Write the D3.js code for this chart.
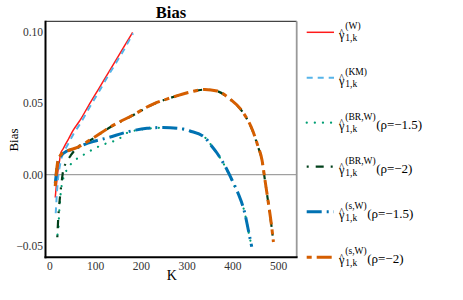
<!DOCTYPE html>
<html><head><meta charset="utf-8">
<script src="https://cdn.jsdelivr.net/npm/d3@7"></script>
<style>body{margin:0;background:#fff}svg{display:block}svg text{font-family:"Liberation Serif","DejaVu Serif",serif !important}</style>
</head><body>
<svg id="c" width="463" height="300"></svg>
<script>
// ---- data ----
const xTicks = [0, 100, 200, 300, 400, 500];
const yTicks = [-0.05, 0.00, 0.05, 0.10];
const yTickLabels = ["\u22120.05", "0.00", "0.05", "0.10"];

const kW  = [13,15,17,19,22,25,30,35,42,52,67,85,110,130,150,165,182];
const vW  = [-0.016,-0.009,-0.003,0.003,0.009,0.015,0.018,0.021,0.025,0.031,0.038,0.0479,0.0612,0.0719,0.0825,0.0905,0.0996];

const kKM = [14,15,16,18,20,23,26,30,35,42,52,67,85,110,130,150,165,183];
const vKM = [-0.027,-0.022,-0.016,-0.007,0.000,0.006,0.011,0.0145,0.018,0.022,0.028,0.0355,0.0455,0.059,0.070,0.0805,0.0885,0.099];

const kBR15 = [17.9,19.7,21.9,24.9,30.6,38,52.5,74.3,99.9,125.5,150.9,170,214,249,286,308,340,351,367,384,399,412,428,435,442.5];
const vBR15 = [-0.042,-0.0387,-0.0247,-0.013,-0.0025,0.0033,0.0091,0.0138,0.0185,0.022,0.0248,0.0293,0.0322,0.0329,0.0322,0.0304,0.0262,0.022,0.015,0.006,-0.004,-0.013,-0.0277,-0.039,-0.0505];

const kBR2 = [17.5,18.5,19.7,21.5,23.4,27,30.6,38,48,60,89,133,183,227,264,308,340,367,395,423,445,456,465,471.5,478,486,490];
const vBR2 = [-0.0438,-0.037,-0.0296,-0.022,-0.0156,-0.005,0.0033,0.0089,0.014,0.0187,0.0240,0.0332,0.0416,0.0494,0.0537,0.0578,0.0596,0.0585,0.0528,0.0437,0.0303,0.0198,0.0100,-0.004,-0.018,-0.0365,-0.0475];

const kS15 = [13,14.6,16.8,23.4,38.7,56.2,73.7,99.9,126.1,169.9,213.6,248.6,285.8,307.6,340.4,351.4,366.6,384.1,399.4,412.5,427.8,435.1,442.5];
const vS15 = [-0.006,-0.0016,0.0047,0.0124,0.0166,0.018,0.0208,0.0236,0.0257,0.0299,0.0325,0.0331,0.0324,0.0306,0.026,0.0215,0.0152,0.0061,-0.0037,-0.0128,-0.0275,-0.0387,-0.0504];

const kS2 = [13,14.6,17,19,23,28,35,45,60,89,133,183,227,264,308,340,367,395,423,445,456,465,471.5,478,486,490];
const vS2 = [-0.008,-0.001,0.006,0.010,0.013,0.015,0.016,0.0173,0.019,0.0243,0.0334,0.0418,0.0495,0.0537,0.0579,0.0597,0.0586,0.053,0.0439,0.0306,0.0201,0.0103,-0.0037,-0.0177,-0.036,-0.0471];

const supLabels = ["(W)", "(KM)", "(BR,W)", "(BR,W)", "(s,W)", "(s,W)"];
const rhoLabels = ["", "", "(\u03c1=\u22121.5)", "(\u03c1=\u22122)", "(\u03c1=\u22121.5)", "(\u03c1=\u22122)"];

// ---- layout ----
const FONT = '"Liberation Serif","DejaVu Serif",serif';
const L = 45.5, R = 296.7, T = 21.3, B = 257.3;
const x = d3.scaleLinear().domain([0, 500]).range([49.3, 278]);
const y = d3.scaleLinear().domain([0, 0.05]).range([174.7, 103.3]);

const series = [
  {k:kW,  v:vW,  color:"#ff1a1a", w:1.5, dash:null, cap:"butt"},
  {k:kKM, v:vKM, color:"#56B4E9", w:2,   dash:"6,5", cap:"butt"},
  {k:kBR15,v:vBR15,color:"#009E73",w:2.2, dash:"0.1,8", cap:"round"},
  {k:kBR2, v:vBR2, color:"#00401a",w:2.2, dash:"2,7,8,7", cap:"butt"},
  {k:kS15, v:vS15, color:"#0072B2",w:3,   dash:"15,5,2,5", cap:"butt"},
  {k:kS2,  v:vS2,  color:"#D55E00",w:3,   dash:"5,5,15,5", cap:"butt"}
];

const svg = d3.select("#c").attr("font-family", FONT);

svg.append("defs").append("clipPath").attr("id","clip")
  .append("rect").attr("x",L).attr("y",T).attr("width",R-L).attr("height",B-T);

// zero line
svg.append("line").attr("x1",L).attr("x2",R).attr("y1",y(0)).attr("y2",y(0))
  .attr("stroke","#8a8a8a").attr("stroke-width",1);

const line = d3.line().x(d=>x(d[0])).y(d=>y(d[1])).curve(d3.curveMonotoneX);
const g = svg.append("g").attr("clip-path","url(#clip)");
series.forEach(s=>{
  g.append("path").datum(s.k.map((k,i)=>[k,s.v[i]]))
   .attr("d",line).attr("fill","none").attr("stroke",s.color)
   .attr("stroke-width",s.w).attr("stroke-dasharray",s.dash)
   .attr("stroke-linecap",s.cap);
});

// frame
svg.append("line").attr("x1",L).attr("x2",R).attr("y1",T).attr("y2",T).attr("stroke","#444").attr("stroke-width",1.2);
svg.append("line").attr("x1",R).attr("x2",R).attr("y1",T).attr("y2",B).attr("stroke","#999").attr("stroke-width",1.8);
svg.append("line").attr("x1",L).attr("x2",L).attr("y1",T-0.6).attr("y2",B+1).attr("stroke","#000").attr("stroke-width",2);
svg.append("line").attr("x1",L-1).attr("x2",R+0.9).attr("y1",B).attr("y2",B).attr("stroke","#000").attr("stroke-width",2);

// axes via d3
const xa = svg.append("g").attr("transform",`translate(0,${B})`)
  .call(d3.axisBottom(x).tickValues(xTicks).tickSize(0).tickPadding(5).tickFormat(d3.format("d")));
xa.attr("font-family", FONT);
xa.select(".domain").remove();
xa.selectAll("text").attr("font-size",11.5).attr("fill","#333").style("font-family", FONT);

const ya = svg.append("g").attr("transform",`translate(${L},0)`)
  .call(d3.axisLeft(y).tickValues(yTicks).tickSize(0).tickPadding(2.5).tickFormat((d,i)=>yTickLabels[i]));
ya.attr("font-family", FONT);
ya.select(".domain").remove();
ya.selectAll("text").attr("font-size",11.5).attr("fill","#333").style("font-family", FONT);

// titles
svg.append("text").attr("x",171).attr("y",18).attr("text-anchor","middle")
  .attr("font-size",16.5).attr("font-weight","bold").style("font-family", FONT).text("Bias");
svg.append("text").attr("transform","translate(18,140) rotate(-90)").attr("text-anchor","middle")
  .attr("font-size",13).style("font-family", FONT).text("Bias");
svg.append("text").attr("x",171.7).attr("y",280).attr("text-anchor","middle")
  .attr("font-size",14).style("font-family", FONT).text("K");

// legend
const rows = [32.3, 77.7, 122.7, 166.7, 211.7, 257.3];
series.forEach((s,i)=>{
  const cy = rows[i];
  const lg = svg.append("g").style("font-family", FONT);
  lg.append("line").attr("x1",306.7).attr("x2",334).attr("y1",cy).attr("y2",cy)
    .attr("stroke",s.color).attr("stroke-width",s.w).attr("stroke-dasharray",s.dash)
    .attr("stroke-linecap",s.cap);
  lg.append("text").attr("x",339).attr("y",cy+7).attr("font-size",12.5).style("font-family", FONT).text("\u03b3");
  lg.append("text").attr("x",339.3).attr("y",cy+3.6).attr("font-size",10).style("font-family", FONT).text("^");
  const sup = lg.append("text").attr("x",345.3).attr("y",cy-3).attr("font-size",9.5).style("font-family", FONT).text(supLabels[i]);
  const sub = lg.append("text").attr("x",345.3).attr("y",cy+9).attr("font-size",9.5).style("font-family", FONT).text("1,k");
  if (rhoLabels[i]) {
    const end = 345.3 + Math.max(sup.node().getComputedTextLength(), sub.node().getComputedTextLength());
    lg.append("text").attr("x",end+0.5).attr("y",cy+6).attr("font-size",13).style("font-family", FONT).text(rhoLabels[i]);
  }
});
</script>
</body></html>
